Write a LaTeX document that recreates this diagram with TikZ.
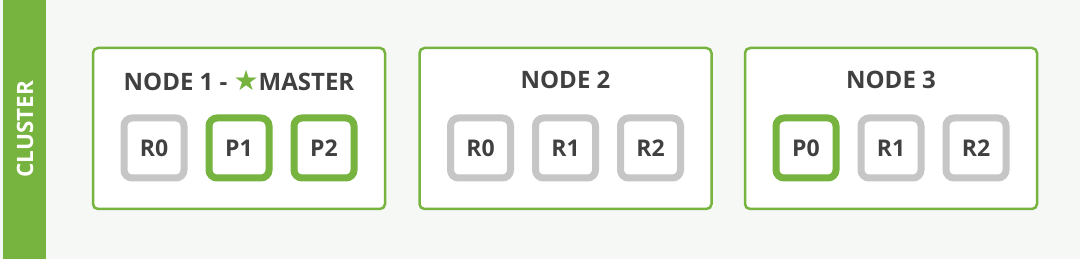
\documentclass[tikz,border=0pt]{standalone}
\usepackage{fontspec}
\setmainfont{Open Sans}
\newfontfamily\symfont{DejaVu Sans}
\usetikzlibrary{positioning}
\definecolor{esgreen}{HTML}{76B33F}
\definecolor{esgray}{HTML}{C6C6C6}
\definecolor{estext}{HTML}{404040}
\definecolor{esbg}{HTML}{F6F8F6}
\tikzset{
  hostbox/.style={draw=esgreen,fill=white,line width=2.5pt,rounded corners=5pt,
    minimum width=292pt,minimum height=161pt},
  hosttitle/.style={text=estext,font=\bfseries\fontsize{24}{24}\selectfont},
  shard/.style={fill=white,line width=7pt,rounded corners=8pt,minimum size=60pt,inner sep=0pt,
    text=estext,font=\bfseries\fontsize{23}{23}\selectfont},
  primary/.style={shard,draw=esgreen},
  replica/.style={shard,draw=esgray}
}
\begin{document}
\begin{tikzpicture}[x=1pt,y=-1pt]
\useasboundingbox (0,0) rectangle (1080,259);
\fill[esbg] (0,0) rectangle (1080,259);
% cluster bar
\fill[esgreen] (3,0) rectangle (46,259);
\node[rotate=90,text=white,font=\bfseries\fontsize{22.5}{22.5}\selectfont] (cluster) at (25,129) {CLUSTER};
% nodes
\foreach \n/\x in {1/239,2/565.5,3/891}
  \node[hosttitle,hostbox] (node\n) at (\x,128.5) {};
\node[hosttitle] (title1) at (239,80) {NODE 1 - {\symfont\fontsize{28}{28}\selectfont\color{esgreen}★}MASTER};
\node[hosttitle] (title2) at (565.5,80) {NODE 2};
\node[hosttitle] (title3) at (891,80) {NODE 3};
% shards
\foreach \n/\a/\b/\c/\sa/\sb/\sc in {1/replica/primary/primary/R0/P1/P2,
                                     2/replica/replica/replica/R0/R1/R2,
                                     3/primary/replica/replica/P0/R1/R2}{
  \node[\b] (s\n b) at ([yshift=-19.5pt]node\n.center) {\sb};
  \node[\a,left=18pt of s\n b] (s\n a) {\sa};
  \node[\c,right=18pt of s\n b] (s\n c) {\sc};
}
\end{tikzpicture}
\end{document}
